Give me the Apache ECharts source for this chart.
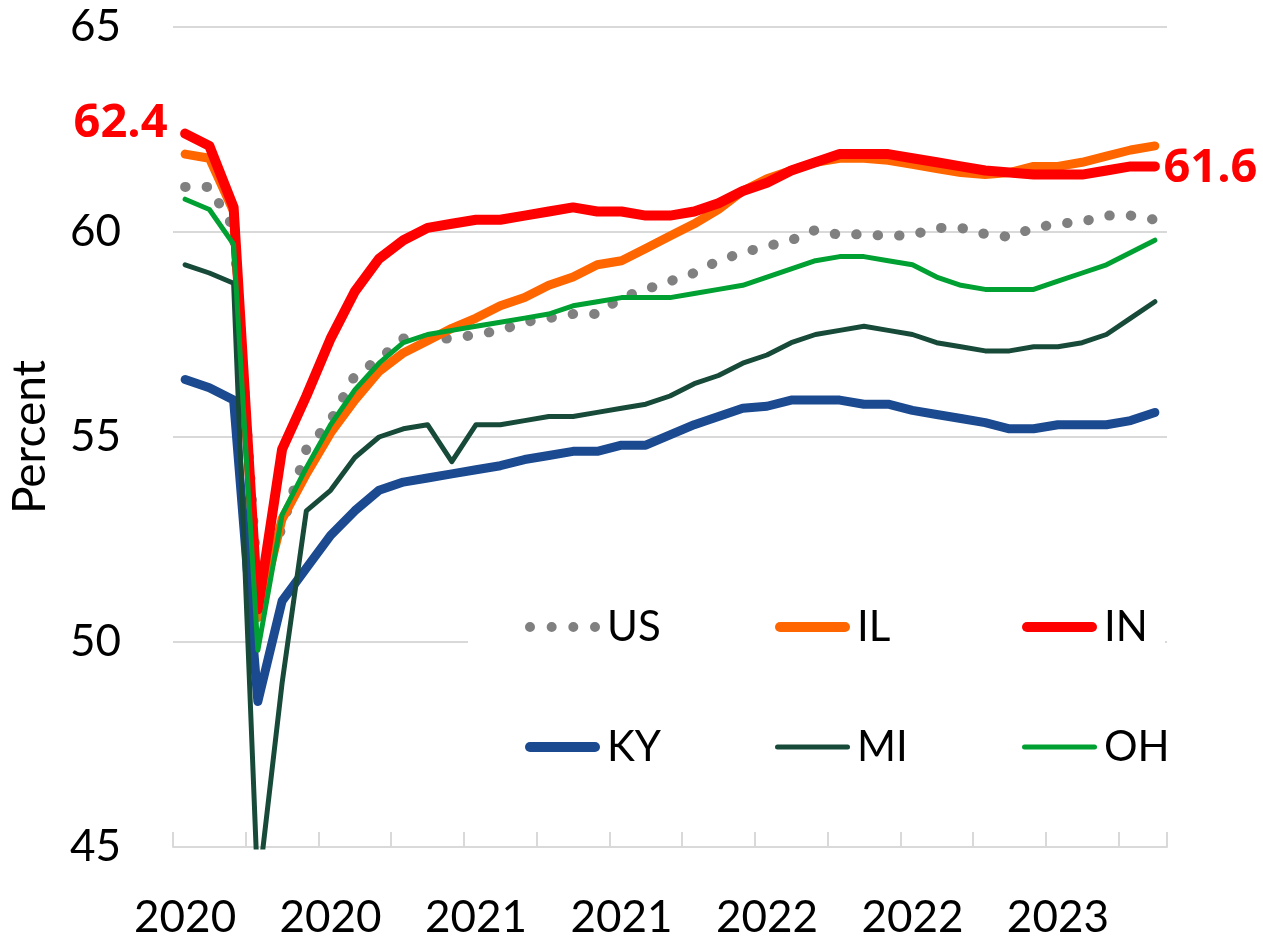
<!DOCTYPE html>
<html>
<head>
<meta charset="utf-8">
<script src="https://cdn.jsdelivr.net/npm/echarts@6/dist/echarts.min.js"></script>
<style>
html,body{margin:0;padding:0;background:#fff;}
#chart{width:1263px;height:938px;}
</style>
</head>
<body>
<div id="chart"></div>
<script>
var categories = [
  'Jan 2020','Feb 2020','Mar 2020','Apr 2020','May 2020','Jun 2020','Jul 2020','Aug 2020','Sep 2020','Oct 2020','Nov 2020','Dec 2020',
  'Jan 2021','Feb 2021','Mar 2021','Apr 2021','May 2021','Jun 2021','Jul 2021','Aug 2021','Sep 2021','Oct 2021','Nov 2021','Dec 2021',
  'Jan 2022','Feb 2022','Mar 2022','Apr 2022','May 2022','Jun 2022','Jul 2022','Aug 2022','Sep 2022','Oct 2022','Nov 2022','Dec 2022',
  'Jan 2023','Feb 2023','Mar 2023','Apr 2023','May 2023'
];
var tickLabels = ['2020','2020','2021','2021','2022','2022','2023'];
var yTicks = [45, 50, 55, 60, 65];

var US = [61.1,61.1,60.1,51.3,52.8,54.7,55.4,56.5,56.9,57.4,57.4,57.4,57.5,57.6,57.8,57.9,58.0,58.0,58.4,58.6,58.8,59.0,59.3,59.5,59.65,59.8,60.05,59.93,59.95,59.9,59.93,60.1,60.1,59.95,59.88,60.1,60.2,60.25,60.4,60.4,60.3];
var IL = [61.9,61.8,60.5,50.6,53.0,54.1,55.1,55.9,56.6,57.05,57.35,57.65,57.9,58.2,58.4,58.7,58.9,59.2,59.3,59.6,59.9,60.2,60.55,61.0,61.3,61.5,61.7,61.8,61.8,61.75,61.65,61.55,61.45,61.4,61.45,61.6,61.6,61.7,61.85,62.0,62.1];
var IN = [62.4,62.1,60.6,50.8,54.7,56.0,57.4,58.55,59.35,59.8,60.1,60.2,60.3,60.3,60.4,60.5,60.6,60.5,60.5,60.4,60.4,60.5,60.7,61.0,61.2,61.5,61.7,61.9,61.9,61.9,61.8,61.7,61.6,61.5,61.45,61.4,61.4,61.4,61.5,61.6,61.6];
var KY = [56.4,56.2,55.9,48.55,51.0,51.8,52.6,53.2,53.7,53.9,54.0,54.1,54.2,54.3,54.45,54.55,54.65,54.65,54.8,54.8,55.05,55.3,55.5,55.7,55.75,55.9,55.9,55.9,55.8,55.8,55.65,55.55,55.45,55.35,55.2,55.2,55.3,55.3,55.3,55.4,55.6];
var MI = [59.2,59.0,58.75,43.9,49.0,53.2,53.7,54.5,55.0,55.2,55.3,54.4,55.3,55.3,55.4,55.5,55.5,55.6,55.7,55.8,56.0,56.3,56.5,56.8,57.0,57.3,57.5,57.6,57.7,57.6,57.5,57.3,57.2,57.1,57.1,57.2,57.2,57.3,57.5,57.9,58.3];
var OH = [60.8,60.55,59.7,49.8,53.1,54.25,55.3,56.15,56.8,57.3,57.5,57.6,57.7,57.8,57.9,58.0,58.2,58.3,58.4,58.4,58.4,58.5,58.6,58.7,58.9,59.1,59.3,59.4,59.4,59.3,59.2,58.9,58.7,58.6,58.6,58.6,58.8,59.0,59.2,59.5,59.8];

var FONT = 'Lato, "Open Sans", "Liberation Sans", sans-serif';
var chart = echarts.init(document.getElementById('chart'), null, {renderer: 'canvas'});

function lineSeries(name, data, color, width, extra) {
  var s = {
    name: name, type: 'line', data: data, symbol: 'none',
    lineStyle: {color: color, width: width, cap: 'round', join: 'round'},
    itemStyle: {color: color},
    emphasis: {disabled: true},
    animation: false
  };
  if (extra) { for (var k in extra) s[k] = extra[k]; }
  return s;
}

var ICON_DOTS = 'path://M0,5a5,5 0 1,0 10,0a5,5 0 1,0 -10,0Z M21.67,5a5,5 0 1,0 10,0a5,5 0 1,0 -10,0Z M43.33,5a5,5 0 1,0 10,0a5,5 0 1,0 -10,0Z M65,5a5,5 0 1,0 10,0a5,5 0 1,0 -10,0Z';
var ICON_THICK = 'path://M5,0L70,0A5,5,0,0,1,70,10L5,10A5,5,0,0,1,5,0Z';
var ICON_THIN = 'path://M2.5,0L72.5,0A2.5,2.5,0,0,1,72.5,5L2.5,5A2.5,2.5,0,0,1,2.5,0Z';

function mkLegend(name, icon, h, left, top) {
  return {
    data: [{name: name, icon: icon}], left: left, top: top,
    orient: 'horizontal', itemWidth: 75, itemHeight: h, padding: 0,
    selectedMode: false, z: 10,
    textStyle: {fontSize: 42, color: '#000', fontFamily: FONT, lineHeight: 42, padding: [0, 0, 0, 2]}
  };
}

var last = IN.length - 1;
var option = {
  backgroundColor: '#fff',
  animation: false,
  grid: {left: 173, right: 96, top: 27, bottom: 91, containLabel: false, outerBoundsMode: 'none'},
  graphic: [{
    type: 'rect', left: 468, top: 588, z: 1,
    shape: {width: 697, height: 215},
    style: {fill: '#fff'}
  }],
  legend: [
    mkLegend('US', ICON_DOTS, 10, 525, 606),
    mkLegend('IL', ICON_THICK, 10, 775, 606),
    mkLegend('IN', ICON_THICK, 10, 1022, 606),
    mkLegend('KY', ICON_THICK, 10, 525, 726),
    mkLegend('MI', ICON_THIN, 5, 775, 726),
    mkLegend('OH', ICON_THIN, 5, 1022, 726)
  ],
  xAxis: {
    type: 'category', data: categories, boundaryGap: true,
    axisLine: {lineStyle: {color: '#d9d9d9', width: 2}},
    axisTick: {show: true, inside: true, length: 15, interval: 2, lineStyle: {color: '#d9d9d9', width: 2}},
    axisLabel: {
      interval: 5, margin: 49, fontSize: 44, color: '#000', fontFamily: FONT,
      formatter: function (v, i) { return tickLabels[i / 6]; }
    },
    splitLine: {show: false}
  },
  yAxis: {
    type: 'value', min: yTicks[0], max: yTicks[yTicks.length - 1], interval: 5,
    name: 'Percent', nameLocation: 'middle', nameGap: 120, nameRotate: 90,
    nameTextStyle: {fontSize: 46, color: '#000', fontFamily: FONT},
    axisLine: {show: false}, axisTick: {show: false},
    axisLabel: {margin: 52, fontSize: 44, color: '#000', fontFamily: FONT},
    splitLine: {lineStyle: {color: '#d9d9d9', width: 2}}
  },
  series: [
    lineSeries('US', US, '#808080', 10, {lineStyle: {color: '#808080', width: 10, type: [0.5, 21], cap: 'round', join: 'round'}}),
    lineSeries('IL', IL, '#FF6600', 9),
    lineSeries('IN', IN, '#FF0000', 10, {
      markPoint: {
        symbol: 'circle', symbolSize: 1, itemStyle: {color: 'rgba(0,0,0,0)'},
        animation: false,
        label: {show: true, color: '#FF0000', fontWeight: 'bold', fontSize: 47, fontFamily: '"Open Sans", Lato, sans-serif', formatter: '{c}'},
        data: [
          {coord: [0, IN[0]], value: IN[0].toFixed(1), label: {position: 'left', distance: 17, offset: [0, -10]}},
          {coord: [last, IN[last]], value: IN[last].toFixed(1), label: {position: 'right', distance: 8, offset: [0, 2]}}
        ]
      }
    }),
    lineSeries('KY', KY, '#1B4A91', 9),
    lineSeries('MI', MI, '#184A3A', 5),
    lineSeries('OH', OH, '#00A032', 5)
  ]
};
chart.setOption(option);
</script>
</body>
</html>
